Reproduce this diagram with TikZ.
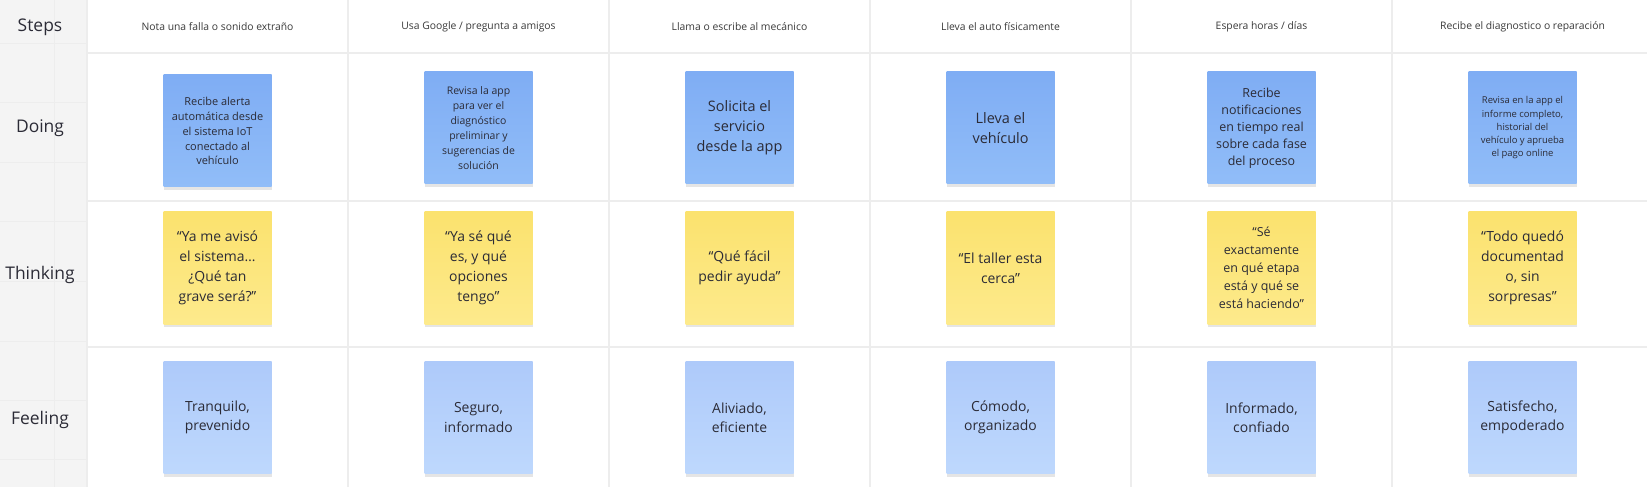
\documentclass[tikz,border=0pt]{standalone}
\usepackage{fontspec}
\setmainfont{Open Sans}
\usetikzlibrary{shadows}
\definecolor{gridline}{HTML}{EDEDED}
\definecolor{sidefill}{HTML}{F4F4F4}
\definecolor{ink}{HTML}{2B2B36}
\definecolor{headink}{HTML}{3A3A3A}
\newcommand{\txtsize}[2]{\fontsize{#1}{#2}\selectfont}

\begin{document}
\begin{tikzpicture}[x=1bp,y=-1bp,
    sticky/.style={minimum width=108bp,minimum height=112bp,inner sep=0pt,align=center,text=ink,
        drop shadow={shadow xshift=0bp,shadow yshift=-3bp,opacity=0.10,fill=black}},
    doing/.style={sticky,top color={rgb,255:red,127;green,173;blue,244},bottom color={rgb,255:red,145;green,189;blue,248}},
    thinking/.style={sticky,top color={rgb,255:red,251;green,226;blue,110},bottom color={rgb,255:red,253;green,234;blue,140}},
    feeling/.style={sticky,top color={rgb,255:red,174;green,202;blue,250},bottom color={rgb,255:red,190;green,216;blue,253}},
    steplabel/.style={text=headink,font=\txtsize{10.4}{13}},
    rowlabel/.style={text=ink,font=\txtsize{17.5}{20}}]
    \useasboundingbox[fill=white] (0,0) rectangle (1647,487);
    \fill[sidefill] (0,0) rectangle (87,487);
    \foreach \y in {44,103,163,222,282,341,400,459}
    \draw[gridline,line width=1bp] (0,\y) -- (87,\y);
    \draw[gridline,line width=1bp] (54,0) -- (54,487);
    \foreach \y in {53,201,347}
    \draw[gridline,line width=1.5bp] (87,\y) -- (1647,\y);
    \foreach \x in {87,348,609,870,1131,1392}
    \draw[gridline,line width=1.2bp] (\x,0) -- (\x,487);

    \node[rowlabel] (steps) at (40,27) {Steps};
    \node[rowlabel] (doinglab) at (40,128) {Doing};
    \node[rowlabel] (thinkinglab) at (40,275) {Thinking};
    \node[rowlabel] (feelinglab) at (40,420) {Feeling};

    \node[steplabel] (s1) at (217.5,27) {Nota una falla o sonido extraño};
    \node[steplabel] (s2) at (478.5,27) {Usa Google / pregunta a amigos};
    \node[steplabel] (s3) at (739.5,27) {Llama o escribe al mecánico};
    \node[steplabel] (s4) at (1000.5,27) {Lleva el auto físicamente};
    \node[steplabel] (s5) at (1261.5,27) {Espera horas / días};
    \node[steplabel] (s6) at (1522.5,27) {Recibe el diagnostico o reparación};

    \node[doing,font=\txtsize{11}{15}] (d1) at (217.5,131) {Recibe alerta\\automática desde\\el sistema IoT\\conectado al\\vehículo};
    \node[doing,font=\txtsize{10.5}{15}] (d2) at (478.5,128) {Revisa la app\\para ver el\\diagnóstico\\preliminar y\\sugerencias de\\solución};
    \node[doing,font=\txtsize{14.5}{20}] (d3) at (739.5,128) {Solicita el\\servicio\\desde la app};
    \node[doing,font=\txtsize{14.5}{20}] (d4) at (1000.5,128) {Lleva el\\vehículo};
    \node[doing,font=\txtsize{12.5}{17}] (d5) at (1261.5,128) {Recibe\\notificaciones\\en tiempo real\\sobre cada fase\\del proceso};
    \node[doing,font=\txtsize{9.5}{13.3}] (d6) at (1522.5,128) {Revisa en la app el\\informe completo,\\historial del\\vehículo y aprueba\\el pago online};

    \node[thinking,font=\txtsize{14}{20}] (t1) at (217.5,268) {“Ya me avisó\\el sistema…\\¿Qué tan\\grave será?”};
    \node[thinking,font=\txtsize{14}{20}] (t2) at (478.5,268) {“Ya sé qué\\es, y qué\\opciones\\tengo”};
    \node[thinking,font=\txtsize{14}{20}] (t3) at (739.5,268) {“Qué fácil\\pedir ayuda”};
    \node[thinking,font=\txtsize{14}{20}] (t4) at (1000.5,268) {“El taller esta\\cerca”};
    \node[thinking,font=\txtsize{12.5}{18}] (t5) at (1261.5,268) {“Sé\\exactamente\\en qué etapa\\está y qué se\\está haciendo”};
    \node[thinking,font=\txtsize{14}{20}] (t6) at (1522.5,268) {“Todo quedó\\documentad\\o, sin\\sorpresas”};

    \node[feeling,font=\txtsize{14}{19.5}] (f1) at (217.5,417.5) {Tranquilo,\\prevenido};
    \node[feeling,font=\txtsize{14}{19.5}] (f2) at (478.5,417.5) {Seguro,\\informado};
    \node[feeling,font=\txtsize{14}{19.5}] (f3) at (739.5,417.5) {Aliviado,\\eficiente};
    \node[feeling,font=\txtsize{14}{19.5}] (f4) at (1000.5,417.5) {Cómodo,\\organizado};
    \node[feeling,font=\txtsize{14}{19.5}] (f5) at (1261.5,417.5) {Informado,\\confiado};
    \node[feeling,font=\txtsize{14}{19.5}] (f6) at (1522.5,417.5) {Satisfecho,\\empoderado};
\end{tikzpicture}
\end{document}
